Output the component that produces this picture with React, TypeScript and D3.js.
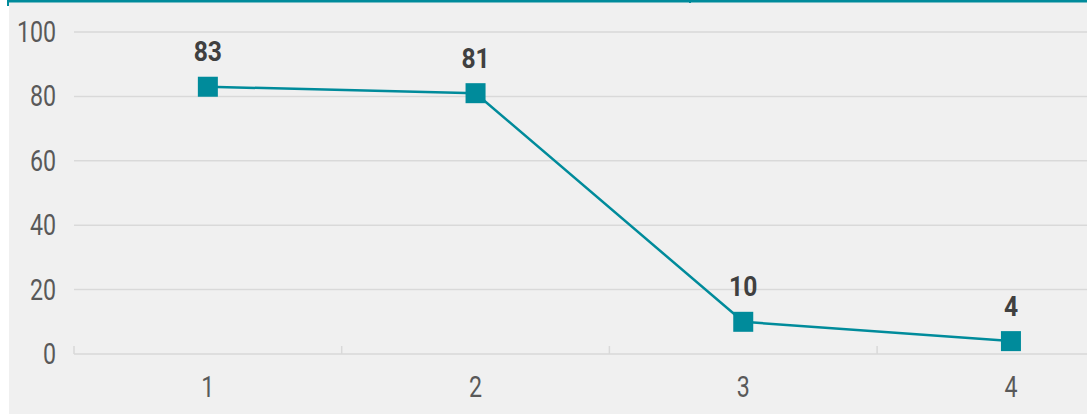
import React from 'react'
import * as d3 from 'd3'

const categories = ['1', '2', '3', '4']
const values = [83, 81, 10, 4]
const yTicks = [0, 20, 40, 60, 80, 100]

const teal = '#008b9b'
const font = "Roboto, 'DejaVu Sans', sans-serif"

const App = () => {
  const width = 1087
  const height = 414
  const plotLeft = 74
  const band = 267.7

  const xScale = d3.scaleBand()
    .domain(categories)
    .range([plotLeft, plotLeft + band * categories.length])

  const yScale = d3.scaleLinear()
    .domain([0, 100])
    .range([354, 32])

  const xc = (c: string) => (xScale(c) as number) + xScale.bandwidth() / 2

  const line = d3.line<number>()
    .x((d, i) => xc(categories[i]))
    .y(d => yScale(d))

  const bounds = categories.map(c => xScale(c) as number)

  // narrow the glyphs a bit to imitate the condensed face of the original
  const narrow = (x: number, y: number, sx: number) => `translate(${x},${y}) scale(${sx},1)`

  return (
    <svg width={width} height={height} style={{position: 'absolute', left: 0, top: 0}}>
      <rect x={0} y={0} width={width} height={height} fill="#ffffff" />
      <rect x={9} y={2} width={width - 9} height={height - 2} fill="#f0f0f0" />
      <line x1={7} x2={width} y1={1} y2={1} stroke={teal} strokeWidth={3} />
      <line x1={8} x2={8} y1={0} y2={6} stroke={teal} strokeWidth={2} />
      <line x1={690} x2={690} y1={0} y2={3} stroke={teal} strokeWidth={2} />

      {yTicks.map(t => (
        <g key={t}>
          <line x1={plotLeft} x2={width} y1={yScale(t)} y2={yScale(t)}
            stroke="#d9d9d9" strokeWidth={1.5} />
          <text transform={narrow(56, yScale(t), 0.8)} textAnchor="end" dominantBaseline="central"
            fontFamily={font} fontSize={29} fill="#595959">{t}</text>
        </g>
      ))}

      {bounds.map((b, i) => (
        <line key={i} x1={b} x2={b} y1={yScale(0) - 8} y2={yScale(0)}
          stroke="#d9d9d9" strokeWidth={1.5} />
      ))}

      {categories.map(c => (
        <text key={c} transform={narrow(xc(c), 387, 0.8)} textAnchor="middle" dominantBaseline="central"
          fontFamily={font} fontSize={29} fill="#595959">{c}</text>
      ))}

      <path d={line(values) || ''} fill="none" stroke={teal} strokeWidth={2.5} />

      {values.map((v, i) => (
        <g key={i}>
          <rect x={xc(categories[i]) - 10} y={yScale(v) - 10} width={20} height={20} fill={teal} />
          <text transform={narrow(xc(categories[i]), yScale(v) - 35, 0.88)} textAnchor="middle"
            dominantBaseline="central" fontFamily={font} fontWeight="bold" fontSize={28}
            fill="#404040">{v}</text>
        </g>
      ))}
    </svg>
  )
}

export default App
